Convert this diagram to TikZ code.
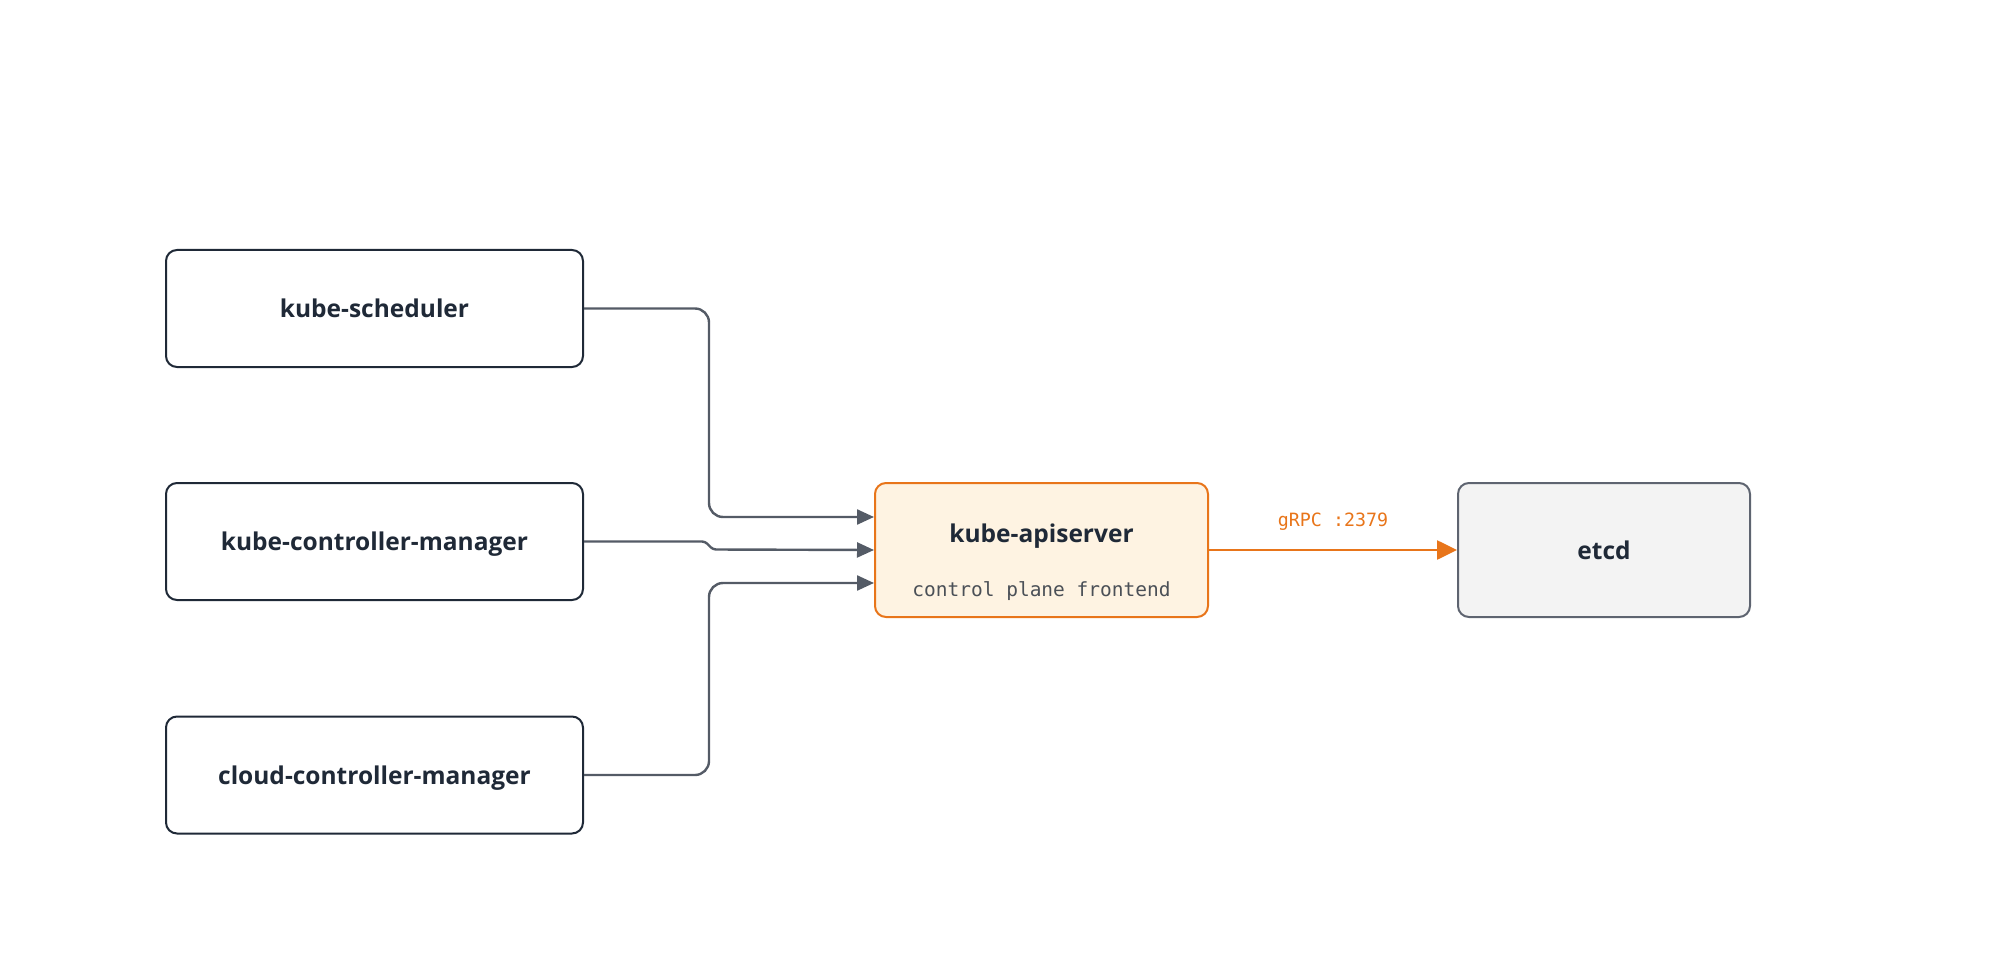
\documentclass[tikz,border=0pt]{standalone}
\usepackage{fontspec}
\setmainfont{Open Sans}
\setmonofont{DejaVu Sans Mono}
\usetikzlibrary{arrows.meta}
\definecolor{ink}{HTML}{1F2937}
\definecolor{wire}{HTML}{545B66}
\definecolor{accent}{HTML}{E8751A}
\definecolor{apifill}{HTML}{FEF3E2}
\definecolor{etcdfill}{HTML}{F3F3F3}
\definecolor{etcdline}{HTML}{5E6470}
\definecolor{subgray}{HTML}{4B5057}
\tikzset{
  comp/.style={draw=ink, line width=2pt, rounded corners=11pt, fill=white,
    minimum width=417pt, minimum height=117pt, inner sep=0pt,
    text depth=0pt, text=ink, font=\fontsize{24.5}{28}\selectfont\bfseries},
  feed/.style={draw=wire, line width=2.4pt, rounded corners=14pt,
    -{Triangle[length=17pt, width=15pt]}},
}
\begin{document}
\begin{tikzpicture}[x=1pt, y=-1pt]
  \useasboundingbox (0,0) rectangle (2000,960);
  \begin{scope}
    \node[comp] (sched) at (374.5, 308.5) {kube-scheduler};
    \node[comp] (cm) at (374.5, 541.5) {kube-controller-manager};
    \node[comp] (ccm) at (374.5, 775) {cloud-controller-manager};
    \node[comp, draw=accent, fill=apifill, minimum width=333pt,
    minimum height=134pt] (api) at (1041.5, 550) {};
    \node[comp, draw=etcdline, fill=etcdfill, minimum width=292pt,
    minimum height=134pt] (etcd) at (1604, 550) {etcd};
    \node[text=ink, text depth=0pt,
    font=\fontsize{24.5}{28}\selectfont\bfseries] (apiname) at
    (1041.5, 533.5) {kube-apiserver}; \node[text=subgray,
    font=\fontsize{19.5}{22}\ttfamily] (apinote) at (1041.5, 591)
    {control plane frontend};
  \end{scope}
  \begin{scope}[feed]
    \draw (sched.east) -- ++(125,0) |- ([yshift=33pt]api.west);
    \draw[rounded corners=3pt] (cm.east) -- ++(121,0) -- ++(8,8) --
    (api.west); \draw (ccm.east) -- ++(125,0) |-
    ([yshift=-33pt]api.west);
  \end{scope}
  \draw[draw=accent, line width=2.6pt,
  -{Triangle[length=20pt, width=19pt]}] (api.east) -- node[midway,
  yshift=28pt, text=accent, font=\fontsize{18.3}{20}\ttfamily] (grpc)
  {gRPC :2379} (etcd.west);
\end{tikzpicture}
\end{document}
